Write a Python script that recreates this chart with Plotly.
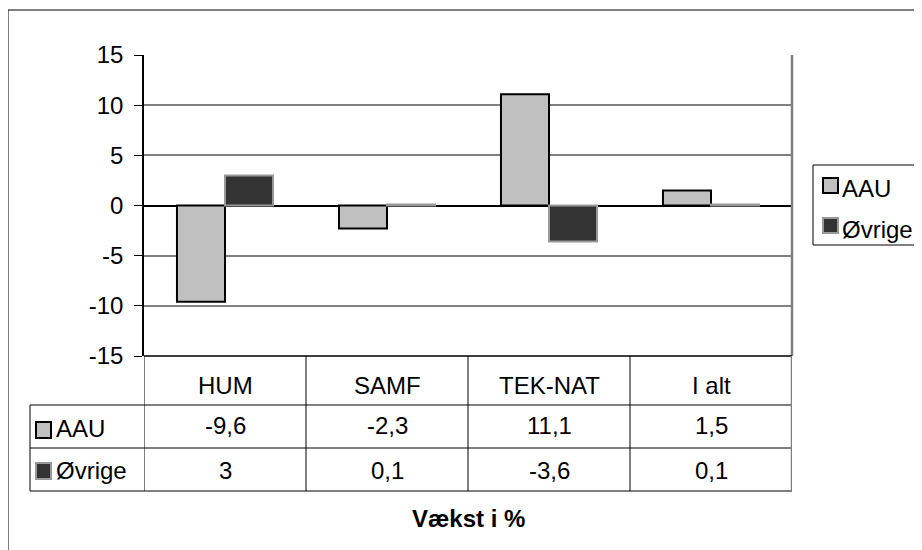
import plotly.graph_objects as go

categories = ["HUM", "SAMF", "TEK-NAT", "I alt"]
aau = [-9.6, -2.3, 11.1, 1.5]
ovrige = [3, 0.1, -3.6, 0.1]
series_names = ["AAU", "Øvrige"]
title_text = "Vækst i %"
y_ticks = [-15, -10, -5, 0, 5, 10, 15]

# page body has an 8px margin; figure is sized to fit the window
OFF = 8
W, H = 922 - OFF, 550 - OFF
L, R, T, B = 144, 792, 55, 356   # plot area in window pixels
FONT = "Liberation Sans, Arial, sans-serif"
FS = 24


def px(x):
    return (x - L) / (R - L)


def py(y):
    return (B - y) / (B - T)


def fmt(v):
    return ("%g" % v).replace(".", ",")


fig = go.Figure()
fig.add_trace(go.Bar(x=categories, y=aau, name=series_names[0],
                     marker=dict(color="#C0C0C0", line=dict(color="#000000", width=2))))
fig.add_trace(go.Bar(x=categories, y=ovrige, name=series_names[1],
                     marker=dict(color="#333333", line=dict(color="#999999", width=2))))

shapes = []
ann = []

# outer chart border
shapes.append(dict(type="rect", xref="paper", yref="paper", x0=px(8), x1=px(920.5),
                   y0=py(600), y1=py(10), line=dict(color="#000000", width=1),
                   fillcolor="rgba(0,0,0,0)", layer="below"))
# plot area right border (gray)
shapes.append(dict(type="line", xref="paper", yref="paper", x0=1, x1=1, y0=0, y1=1,
                   line=dict(color="#808080", width=2.5)))

# table horizontal lines
shapes.append(dict(type="line", xref="paper", yref="paper", x0=0, x1=1, y0=py(356), y1=py(356),
                   line=dict(color="#000000", width=1.5)))
for yy in [405, 448, 491]:
    shapes.append(dict(type="line", xref="paper", yref="paper", x0=px(30), x1=1,
                       y0=py(yy), y1=py(yy), line=dict(color="#000000", width=1)))
# table vertical lines
shapes.append(dict(type="line", xref="paper", yref="paper", x0=px(30), x1=px(30),
                   y0=py(405), y1=py(491), line=dict(color="#000000", width=1)))
for i in range(len(categories) + 1):
    last = i == len(categories)
    shapes.append(dict(type="line", xref="x", yref="paper", x0=i - 0.5, x1=i - 0.5,
                       y0=py(356), y1=py(491),
                       line=dict(color="#808080" if last else "#000000",
                                 width=2.5 if last else 1)))

# table text
for i, c in enumerate(categories):
    ann.append(dict(x=c, xref="x", y=py(385), yref="paper", text=c, showarrow=False,
                    xanchor="center", yanchor="middle", font=dict(size=FS, color="#000")))
    ann.append(dict(x=c, xref="x", y=py(425), yref="paper", text=fmt(aau[i]), showarrow=False,
                    xanchor="center", yanchor="middle", font=dict(size=FS, color="#000")))
    ann.append(dict(x=c, xref="x", y=py(470), yref="paper", text=fmt(ovrige[i]), showarrow=False,
                    xanchor="center", yanchor="middle", font=dict(size=FS, color="#000")))

# row legend keys in table
sw = [("#C0C0C0", "#000000"), ("#333333", "#999999")]
row_y = [(422, 438, 428), (463, 479, 470)]
for (fill, line), (y0, y1, yc), name in zip(sw, row_y, series_names):
    shapes.append(dict(type="rect", xref="paper", yref="paper", x0=px(36), x1=px(51),
                       y0=py(y1), y1=py(y0), fillcolor=fill, line=dict(color=line, width=2)))
    ann.append(dict(x=px(54), xref="paper", y=py(yc), yref="paper", text=name, showarrow=False,
                    xanchor="left", yanchor="middle", font=dict(size=FS, color="#000")))

# right legend
shapes.append(dict(type="rect", xref="paper", yref="paper", x0=px(813), x1=px(920.5),
                   y0=py(245), y1=py(165), line=dict(color="#000000", width=1),
                   fillcolor="#FFFFFF"))
leg_y = [(178, 193, 188), (218, 233, 229)]
for (fill, line), (y0, y1, yc), name in zip(sw, leg_y, series_names):
    shapes.append(dict(type="rect", xref="paper", yref="paper", x0=px(823), x1=px(838),
                       y0=py(y1), y1=py(y0), fillcolor=fill, line=dict(color=line, width=2)))
    ann.append(dict(x=px(840), xref="paper", y=py(yc), yref="paper", text=name, showarrow=False,
                    xanchor="left", yanchor="middle", font=dict(size=FS, color="#000")))

# title below
ann.append(dict(x=0.5, xref="paper", y=py(519), yref="paper", text="<b>%s</b>" % title_text,
                showarrow=False, xanchor="center", yanchor="middle",
                font=dict(size=FS, color="#000")))

fig.update_layout(
    width=W, height=H,
    margin=dict(l=L - OFF, r=W - (R - OFF), t=T - OFF, b=H - (B - OFF), pad=0),
    paper_bgcolor="#FFFFFF", plot_bgcolor="#FFFFFF",
    font=dict(family=FONT, size=FS, color="#000000"),
    barmode="group", bargap=0.407, bargroupgap=0,
    showlegend=False,
    shapes=shapes, annotations=ann,
    xaxis=dict(range=[-0.5, len(categories) - 0.5], showticklabels=False, showgrid=False,
               zeroline=False, showline=False, ticks=""),
    yaxis=dict(range=[-15, 15], tickvals=y_ticks, ticktext=[str(v) for v in y_ticks],
               showgrid=True, gridcolor="#808080", gridwidth=2,
               zeroline=True, zerolinecolor="#000000", zerolinewidth=1.5,
               showline=True, linecolor="#000000", linewidth=1.5,
               ticks="outside", ticklen=8, tickcolor="#000000", tickwidth=1,
               ticklabelstandoff=6,
               tickfont=dict(size=FS, color="#000")),
)

fig.write_html("out.html")
